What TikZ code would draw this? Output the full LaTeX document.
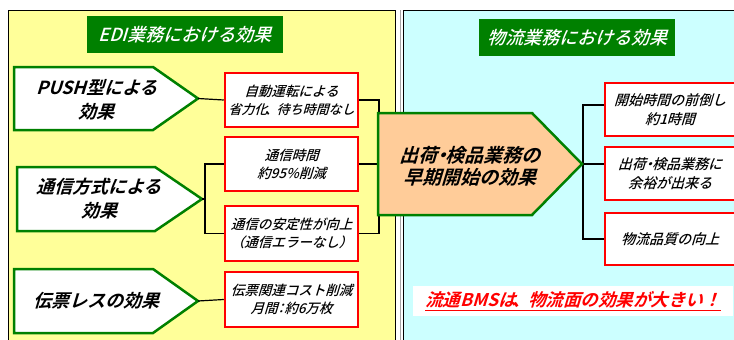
\documentclass[tikz,border=0pt]{standalone}
\usepackage{fontspec}
\newfontfamily\jp{Noto Sans CJK JP Medium}[FakeSlant=0.3]
\newfontfamily\jpb{Noto Sans CJK JP Bold}[FakeSlant=0.3]
\newcommand\nd{\kern-0.28em・\kern-0.28em}
\definecolor{panelY}{HTML}{FFFF99}
\definecolor{panelC}{HTML}{CCFFFF}
\definecolor{dgreen}{HTML}{008000}
\definecolor{orangef}{HTML}{FFCC99}
\begin{document}
\begin{tikzpicture}[x=1pt,y=-1pt,
 panel/.style={draw=black, line width=1pt},
 titlebox/.style={fill=dgreen, text=white, minimum width=196pt, minimum height=37pt, inner sep=0pt, font=\jp\fontsize{18}{20}\selectfont},
 arrowshape/.style={draw=dgreen, line width=2.5pt, line join=miter},
 bigtext/.style={align=center, font=\jpb\fontsize{18}{24}\selectfont, inner sep=0pt},
 redbox/.style={draw=red, line width=2.5pt, fill=white, minimum width=133pt, minimum height=54pt, inner sep=0pt, align=center, font=\jp\fontsize{13.5}{18}\selectfont},
 rbox/.style={redbox, minimum width=130pt, minimum height=53pt, font=\jp\fontsize{14}{19}\selectfont},
 conn/.style={draw=black, line width=1.2pt}
]
\clip (0,0) rectangle (734,340);
% panels
\fill[white] (0,0) rectangle (734,340);
\draw[panel, fill=panelY] (8,10) rectangle (395,350);
\draw[panel, fill=panelC] (403,10) rectangle (745,350);
\draw[gray!70, line width=0.8pt] (400.8,10) -- (400.8,350);
% titles
\node[titlebox] (t1) at (185,34.5) {EDI業務における効果};
\node[titlebox] (t2) at (577,37.5) {物流業務における効果};
% left arrows
\draw[arrowshape, fill=white] (14,67) -- (153,67) -- (198,98.5) -- (153,130) -- (14,130) -- cycle;
\coordinate (p1tip) at (198,98.5);
\node[bigtext] (p1) at (97,100) {PUSH型による\\効果};
\draw[arrowshape, fill=white] (17,167) -- (155,167) -- (202,199) -- (155,231) -- (17,231) -- cycle;
\coordinate (p2tip) at (202,199);
\node[bigtext] (p2) at (99,199) {通信方式による\\効果};
\draw[arrowshape, fill=white] (14,269) -- (153,269) -- (198,301) -- (153,333) -- (14,333) -- cycle;
\coordinate (p3tip) at (198,301);
\node[bigtext] (p3) at (96,301) {伝票レスの効果};
% middle boxes
\node[redbox] (b1) at (291.5,100) {自動運転による\\{\fontsize{13}{18}\selectfont 省力化\kern-0.2em、\kern-0.1em待ち時間なし}};
\node[redbox] (b2) at (291.5,164) {通信時間\\約95\%削減};
\node[redbox, minimum height=55pt] (b3) at (291.5,233.5) {通信の安定性が向上\\（通信エラーなし）};
\node[redbox, minimum height=55pt] (b4) at (291.5,299.5) {伝票関連コスト削減\\月間\kern-0.25em：\kern-0.25em約6万枚};
% right boxes
\node[rbox] (r1) at (670,109.5) {開始時間の前倒し\\約1時間};
\node[rbox] (r2) at (670,173.5) {出荷\nd 検品業務に\\余裕が出来る};
\node[rbox, minimum height=52pt] (r3) at (670,239) {物流品質の向上};
% buses
\coordinate (busM) at (205,0);
\coordinate (busL) at (379,0);
\coordinate (rt) at (583,105);
\coordinate (otip) at (582,164);
% connectors
\draw[conn] (p1tip) -- (b1.west);
\draw[conn] (p3tip) -- (b4.west);
\draw[conn] (p2tip) -- (p2tip -| busM);
\draw[conn] (b2.west) -- (b2.west -| busM) -- (b3.west -| busM) -- (b3.west);
\draw[conn] (b1.east) -- (b1.east -| busL) -- (b3.east -| busL) -- (b3.east);
\draw[conn] (b2.east) -- (b2.east -| busL);
\draw[conn] (rt -| r1.west) -- (rt) -- (rt |- r3.west) -- (r3.west);
\draw[conn] (otip) -- (otip -| r2.west);
% central arrow
\draw[arrowshape, fill=orangef] (378,113) -- (532,113) -- (582,164) -- (532,215) -- (378,215) -- cycle;
\node[bigtext, font=\jpb\fontsize{19}{22}\selectfont] (o) at (470,166) {出荷\nd 検品業務の\\早期開始の効果};
% message
\node[fill=white, minimum width=320pt, minimum height=30pt, inner sep=0pt, text=red, font=\jpb\fontsize{17.5}{20}\selectfont] (msg) at (573,301) {\underline{流通BMSは\kern-0.2em、\kern-0.1em物流面の効果が大きい！}};
\end{tikzpicture}
\end{document}
